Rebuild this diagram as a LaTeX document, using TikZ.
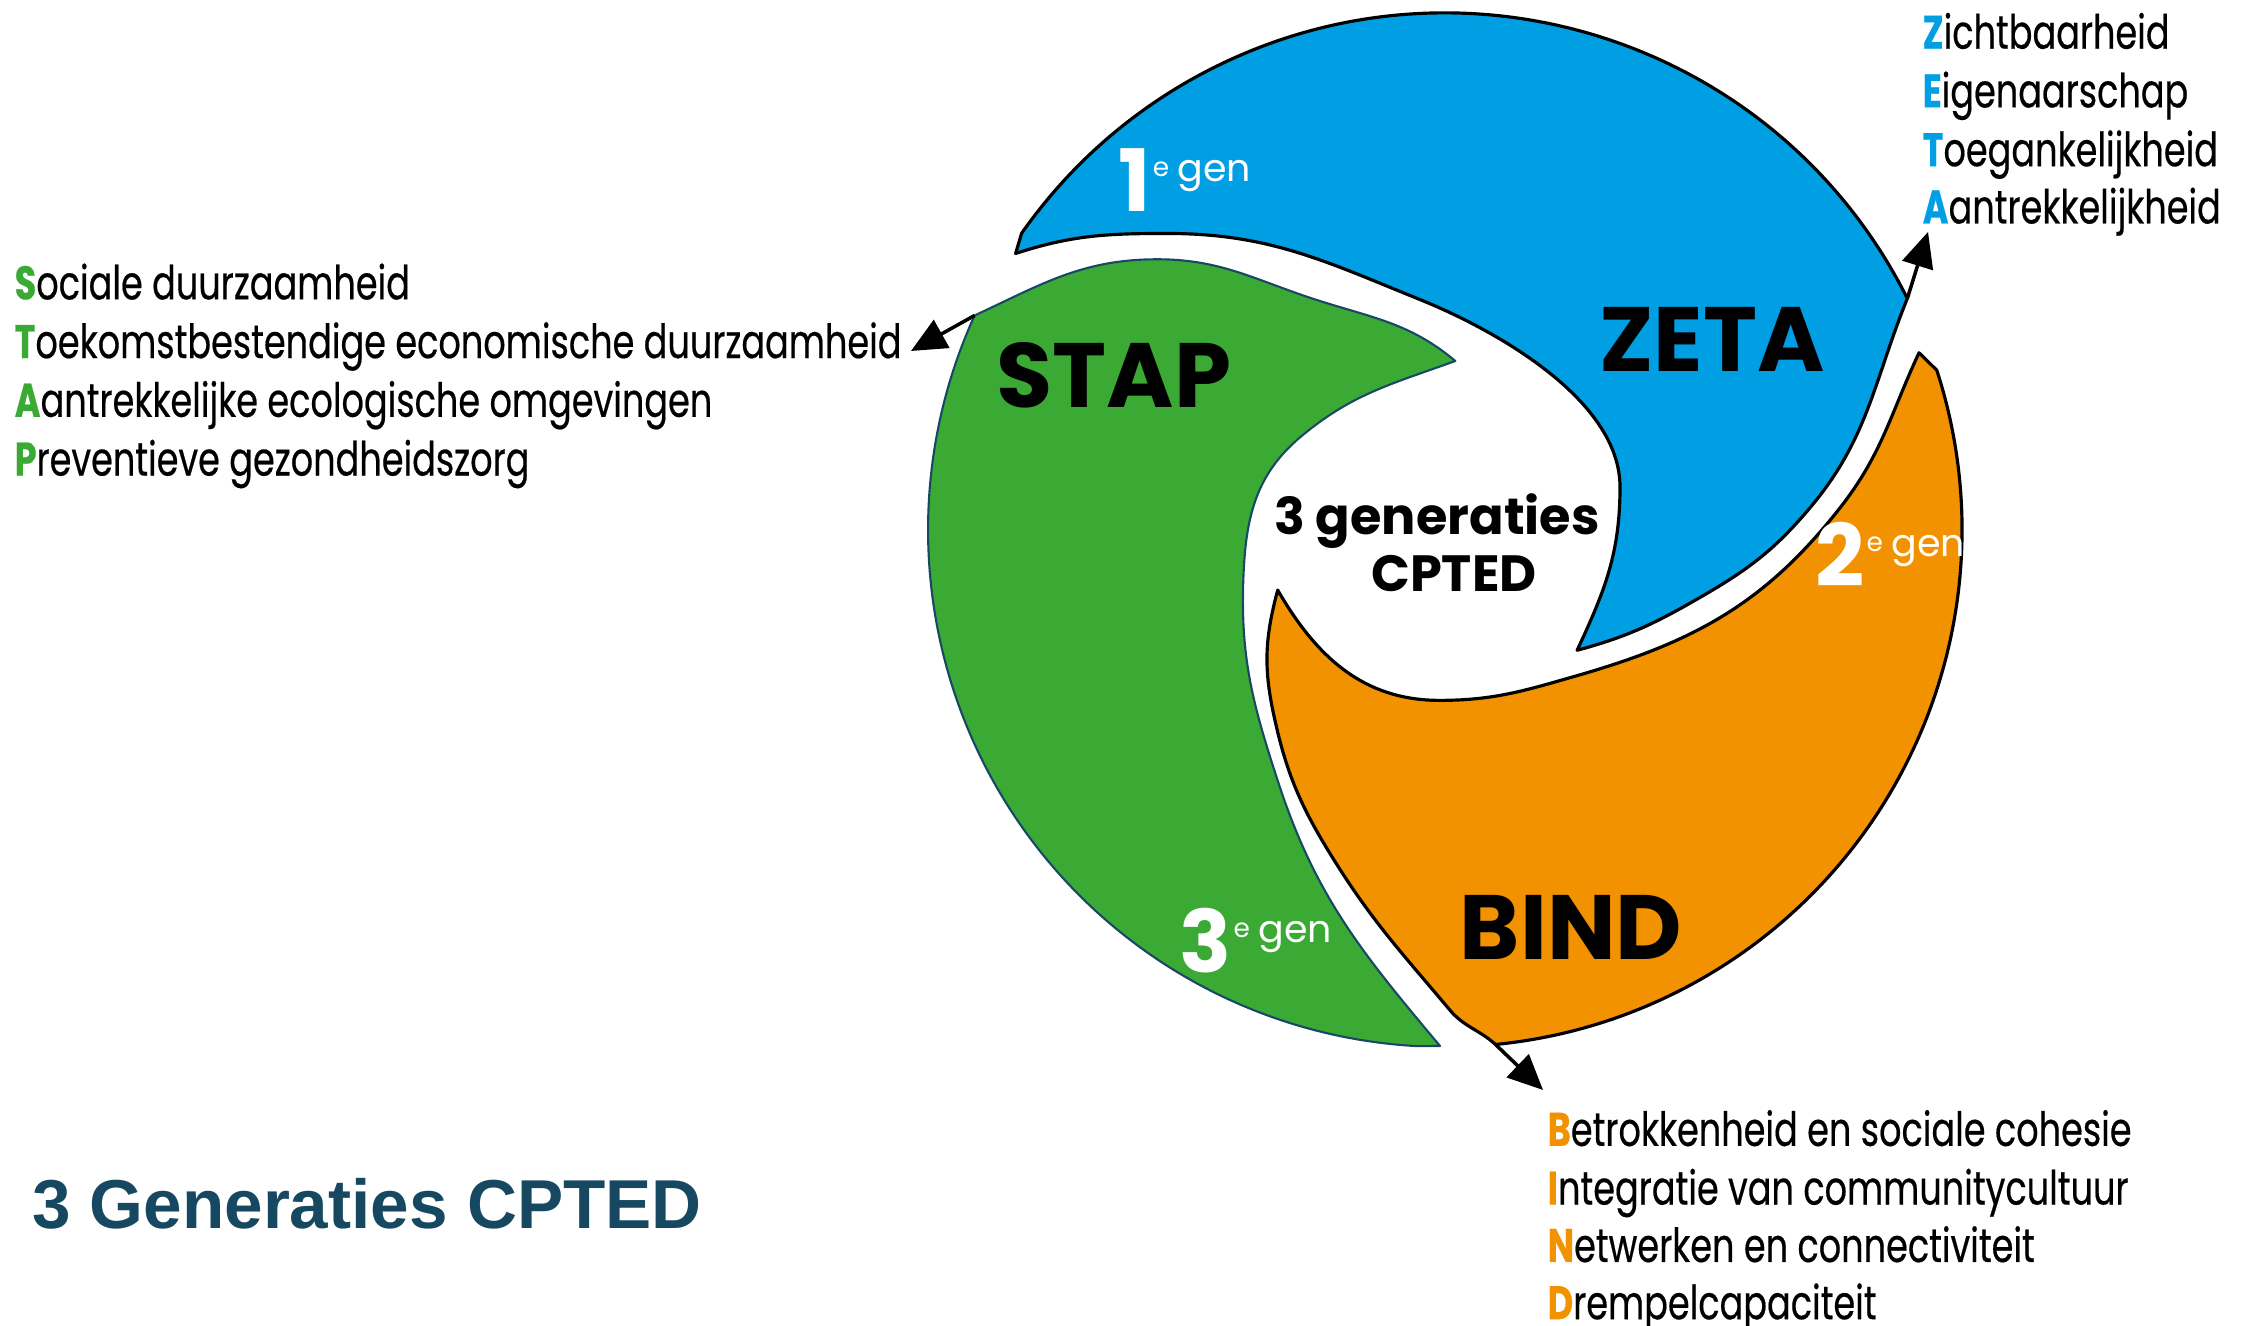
\documentclass[tikz,border=0pt]{standalone}
\usepackage{fontspec}
\setmainfont{Poppins}
\newfontfamily\listfont[FakeStretch=0.745, FakeBold=0.4]{Poppins}
\newfontfamily\titlefont{Liberation Sans}
\usetikzlibrary{arrows.meta}
\definecolor{zetablue}{RGB}{0,159,227}
\definecolor{stapgreen}{RGB}{58,170,53}
\definecolor{bindorange}{RGB}{243,146,0}
\definecolor{stapedge}{RGB}{24,72,100}
\definecolor{titleblue}{RGB}{22,73,97}
\newcommand{\initial}[2]{{\color{#1}\bfseries #2}}
\newcommand{\genlabel}[1]{{\fontsize{24.5}{24.5}\selectfont\bfseries #1}\hspace{0.5pt}%
  \raisebox{10pt}{\fontsize{7.5}{7.5}\selectfont e}\hspace{2.4pt}%
  \raisebox{8.8pt}{\fontsize{10.8}{10.8}\selectfont gen}}

\begin{document}
\begin{tikzpicture}[
    blade/.style={line width=0.9pt, line join=round},
    pointer/.style={line width=1pt, -{Triangle[length=10pt,width=9pt]}},
    biglabel/.style={inner sep=0, font=\fontsize{26}{26}\selectfont\bfseries},
    midlabel/.style={inner sep=0, anchor=base, font=\fontsize{14.5}{14.5}\selectfont\bfseries},
    genlbl/.style={inner sep=0, anchor=base west, text=white},
    listline/.style={inner sep=0, anchor=base west, font=\listfont\fontsize{13.4}{13.4}\selectfont}]
  \useasboundingbox (0,0) rectangle (22.46,13.26);

  \filldraw [blade, fill=zetablue, draw=black] (19.073,10.275) arc[start angle=26.6, end angle=145, radius=5.17]
    -- (10.156,10.725) to[out=18,in=180] (11.674,10.925) to[out=0,in=158] (14.195,10.266)
    to[out=-22,in=90,looseness=0.8] (16.200,8.390) to[out=-90,in=65] (15.771,6.757)
    to[out=15,in=210] (17.003,7.287) to[out=30,in=230] (18.106,8.189)
    to[out=50,in=248] (19.073,10.275) -- cycle;                                  %1e gen
  \filldraw [blade, fill=stapgreen, draw=stapedge, line width=0.6pt] (9.746,10.105) arc[start angle=155.5, end angle=267, radius=5.17]
    -- (14.40,2.80) to[out=130,in=-72] (12.777,5.453) to[out=108,in=-92] (12.433,7.459)
    to[out=88,in=220] (13.006,8.891) to[out=40,in=200] (14.553,9.650)
    to[out=140,in=-18] (13.149,10.266) to[out=162,in=0] (11.574,10.667)
    to[out=180,in=25] (9.746,10.105) -- cycle;                                   %3e gen
  \filldraw [blade, fill=bindorange, draw=black] (14.955,2.815) arc[start angle=275.6, end angle=378, radius=5.17]
    -- (19.19,9.732) to[out=245,in=52] (18.406,8.189) to[out=232,in=16] (15.756,6.499)
    to[out=196,in=0] (14.395,6.256) to[out=180,in=-60] (12.777,7.359)
    to[out=255,in=102] (12.734,6.127) to[out=282,in=122] (13.336,4.666)
    to[out=302,in=130] (14.496,3.162) to[out=310,in=138] (14.955,2.815) -- cycle; %2e gen
  \coordinate (zetacorner) at (19.073,10.275);
  \coordinate (stapcorner) at (9.746,10.105);
  \coordinate (bindcorner) at (14.955,2.815);

  \node [biglabel] (zetalabel) at (17.12,9.865) {ZETA};
  \node [biglabel] (staplabel) at (11.14,9.507) {STAP};
  \node [biglabel] (bindlabel) at (15.71,3.985) {BIND};
  \node [midlabel] (core1)     at (14.37,7.91)  {3 generaties};
  \node [midlabel] (core2)     at (14.54,7.34)  {CPTED};

  \node [genlbl] (gen1) at (11.18,11.14) {\genlabel{1}};
  \node [genlbl] (gen2) at (18.15,7.39)  {\genlabel{2}};
  \node [genlbl] (gen3) at (11.79,3.53)  {\genlabel{3}};

  % lijsten
  \node [listline] (z1) at (19.22,12.773) {\initial{zetablue}{Z}ichtbaarheid};
  \node [listline] (z2) at (19.22,12.186) {\initial{zetablue}{E}igenaarschap};
  \node [listline] (z3) at (19.22,11.598) {\initial{zetablue}{T}oegankelijkheid};
  \node [listline] (z4) at (19.22,11.025) {\initial{zetablue}{A}antrekkelijkheid};

  \node [listline] (s1) at (0.14,10.266) {\initial{stapgreen}{S}ociale duurzaamheid};
  \node [listline] (s2) at (0.14,9.679)  {\initial{stapgreen}{T}oekomstbestendige economische duurzaamheid};
  \node [listline] (s3) at (0.14,9.092)  {\initial{stapgreen}{A}antrekkelijke ecologische omgevingen};
  \node [listline] (s4) at (0.14,8.504)  {\initial{stapgreen}{P}reventieve gezondheidszorg};

  \node [listline] (b1) at (15.47,1.801) {\initial{bindorange}{B}etrokkenheid en sociale cohesie};
  \node [listline] (b2) at (15.47,1.214) {\initial{bindorange}{I}ntegratie van communitycultuur};
  \node [listline] (b3) at (15.47,0.640) {\initial{bindorange}{N}etwerken en connectiviteit};
  \node [listline] (b4) at (15.47,0.068) {\initial{bindorange}{D}rempelcapaciteit};

  \coordinate (zetaend) at (19.28,10.94);
  \coordinate (stapend) at (9.11,9.75);
  \coordinate (bindend) at (15.43,2.36);
  \draw [pointer] (zetacorner) -- (zetaend);
  \draw [pointer] (stapcorner) -- (stapend);
  \draw [pointer] (bindcorner) -- (bindend);

  \node [inner sep=0, anchor=base west, text=titleblue, font=\titlefont\bfseries\fontsize{19.7}{19.7}\selectfont]
    (title) at (0.315,0.97) {3 Generaties CPTED};
\end{tikzpicture}
\end{document}
